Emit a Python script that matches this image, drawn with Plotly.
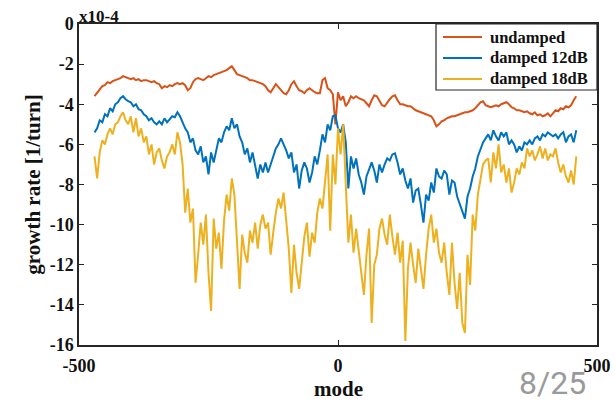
import plotly.graph_objects as go

modes = list(range(-470, 461, 5))

undamped = [
    -3.6, -3.45, -3.3, -3.1, -3.05, -2.9, -2.95, -2.85, -2.8, -2.75,
    -2.7, -2.6, -2.65, -2.7, -2.75, -2.7, -2.8, -2.75, -2.85, -2.8,
    -2.8, -2.85, -2.9, -2.85, -2.95, -3.0, -3.2, -3.1, -3.15, -3.05,
    -3.1, -3.0, -2.95, -3.0, -2.95, -3.05, -3.3, -3.2, -2.9, -2.75,
    -2.7, -2.75, -2.8, -2.7, -2.6, -2.65, -2.55, -2.5, -2.45, -2.4,
    -2.35, -2.3, -2.2, -2.1, -2.3, -2.5, -2.55, -2.6, -2.65, -2.7,
    -2.8, -2.8, -2.85, -2.9, -2.95, -3.0, -3.1, -3.3, -3.4, -3.2,
    -3.0, -3.15, -3.3, -3.45, -3.5, -3.3, -3.0, -2.85, -3.1, -3.3,
    -3.35, -3.45, -3.3, -3.2, -3.3, -3.4, -3.45, -3.45, -2.8, -2.7,
    -3.2, -3.3, -3.5, -5.0, -3.4, -3.8, -3.6, -4.1, -3.9, -3.6,
    -3.7, -3.6, -3.7, -3.75, -3.8, -3.95, -4.1, -3.8, -3.55, -3.6,
    -3.85, -4.05, -4.1, -3.9, -3.75, -3.6, -3.55, -3.8, -4.0, -4.0,
    -4.05, -4.1, -4.1, -4.2, -4.3, -4.35, -4.4, -4.45, -4.5, -4.55,
    -4.6, -4.8, -5.1, -5.0, -4.85, -4.8, -4.7, -4.65, -4.6, -4.6,
    -4.55, -4.5, -4.45, -4.4, -4.4, -4.35, -4.3, -4.2, -4.05, -3.9,
    -3.85, -4.05, -4.1, -4.15, -4.1, -4.05, -4.1, -4.0, -3.95, -3.9,
    -4.0, -4.15, -4.2, -4.3, -4.3, -4.35, -4.4, -4.35, -4.45, -4.5,
    -4.4, -4.55, -4.5, -4.6, -4.55, -4.45, -4.6, -4.45, -4.3, -4.35,
    -4.2, -4.25, -4.1, -4.15, -4.05, -3.8, -3.6,
]

damped12 = [
    -5.4, -5.2, -4.8, -4.9, -4.5, -4.6, -4.2, -4.35, -4.0, -3.9,
    -3.7, -3.6, -3.75, -3.85, -3.9, -4.1, -4.0, -4.25, -4.3, -4.5,
    -4.6, -4.8, -4.7, -4.9, -5.0, -4.85, -5.0, -4.7, -4.9, -4.75,
    -4.6, -4.65, -4.4, -4.6, -4.9, -5.2, -5.4, -5.9, -5.7, -6.3,
    -6.5, -6.1, -6.9, -6.6, -7.5, -6.4, -6.9, -6.2, -5.7, -5.9,
    -5.4, -5.1, -5.3, -4.7, -5.2, -5.0, -5.6, -5.9, -6.5, -6.2,
    -6.9, -6.4, -7.1, -7.7, -7.0, -7.4, -6.9, -7.4, -7.0, -6.6,
    -6.2, -6.0, -5.7, -6.0, -6.3, -6.7, -6.4, -7.4, -7.0, -8.2,
    -7.3, -6.9, -7.2, -7.9, -7.4, -6.6, -7.0, -6.3, -5.5, -5.9,
    -5.0, -5.3, -4.6, -4.55, -5.2, -5.4, -5.0, -5.9, -8.2, -6.6,
    -7.2, -6.7, -7.5, -7.9, -8.5, -7.6, -7.2, -6.9, -7.3, -7.9,
    -7.0, -7.4, -7.0, -6.7, -6.8, -6.5, -6.45, -6.9, -7.5, -7.2,
    -7.8, -8.2, -7.7, -8.9, -8.3, -8.2, -9.0, -9.9, -8.5, -8.8,
    -7.9, -8.4, -7.2, -7.6, -7.7, -7.3, -7.5, -8.5, -7.8, -7.9,
    -8.6, -9.0, -9.4, -9.7, -8.6, -8.2, -7.6, -7.2, -6.6, -6.2,
    -5.9, -5.7, -5.5, -5.8, -5.3, -5.6, -5.8, -5.4, -5.6, -5.4,
    -6.0, -5.8, -6.0, -6.4, -6.1, -6.3, -5.9, -6.0, -5.8, -6.0,
    -5.7, -5.6, -5.8, -5.5, -5.6, -5.4, -5.5, -5.6, -5.5, -5.7,
    -5.5, -5.4, -5.9, -5.6, -5.5, -5.9, -5.3,
]

damped18 = [
    -6.6, -7.7, -6.4, -5.8, -6.0, -5.5, -5.2, -5.5, -5.0, -4.9,
    -4.6, -4.4, -4.8, -5.0, -4.6, -5.4, -4.7, -5.6, -5.2, -5.9,
    -5.6, -6.5, -6.0, -7.0, -6.4, -6.2, -6.8, -7.2, -6.6, -6.4,
    -6.0, -6.5, -5.4, -5.9, -7.0, -9.4, -8.2, -9.9, -9.2, -12.9,
    -11.5, -9.9, -11.0, -9.5, -12.4, -14.3, -9.7, -11.2, -10.4, -12.2,
    -9.8, -8.5, -9.3, -7.7, -8.5, -10.7, -13.2, -10.5, -11.4, -11.9,
    -10.3, -10.9, -9.9, -11.2, -10.0, -9.5, -10.2, -9.9, -11.5, -10.4,
    -9.4, -8.7, -9.2, -8.4, -9.9, -11.2, -13.4, -11.0, -12.4, -13.2,
    -11.9, -10.6, -9.9, -11.6, -10.4, -10.9, -9.4, -8.7, -9.2, -7.9,
    -6.5, -10.3, -6.5, -8.0, -5.2, -6.5, -5.0, -8.0, -10.9, -9.5,
    -11.4, -10.2, -11.4, -12.5, -13.5, -11.5, -10.2, -14.9, -12.0, -11.5,
    -10.2, -9.7, -10.5, -11.0, -9.5, -10.6, -11.5, -10.4, -11.9, -10.8,
    -15.8, -12.2, -10.9, -12.0, -12.9, -11.2, -12.2, -13.2, -11.5, -10.2,
    -9.5, -10.9, -10.2, -11.4, -11.9, -10.9, -12.4, -13.5, -10.9, -12.9,
    -14.2, -12.4, -14.9, -15.4, -11.5, -13.0, -9.5, -10.3, -8.5, -7.7,
    -7.0, -6.8, -6.7, -7.9, -6.4, -7.2, -6.0, -7.4, -7.0, -7.9,
    -7.2, -8.4, -7.9, -7.2, -7.5, -6.9, -7.2, -6.2, -6.6, -6.3,
    -6.8, -6.5, -6.1, -6.7, -6.2, -6.8, -6.5, -6.6, -6.2, -6.9,
    -7.4, -7.0, -7.6, -7.9, -7.3, -8.0, -6.6,
]

series_names = ["undamped", "damped 12dB", "damped 18dB"]
series_colors = ["#D95319", "#0072BD", "#EDB120"]

x_ticks = [-500, 0, 500]
x_tick_text = ["-500", "0", "500"]
y_ticks = [-16, -14, -12, -10, -8, -6, -4, -2, 0]
y_tick_text = ["-16", "-14", "-12", "-10", "-8", "-6", "-4", "-2", "0"]

SERIF = "Liberation Serif, Times New Roman, serif"
INK = "#262626"
TXT = "#111111"

fig = go.Figure()
for name, color, vals in zip(series_names, series_colors, [undamped, damped12, damped18]):
    fig.add_trace(go.Scatter(x=modes, y=vals, mode="lines", name=name,
                             line=dict(color=color, width=2), showlegend=False))

axis_common = dict(
    showline=True, linecolor=INK, linewidth=1.5, mirror="ticks",
    ticks="inside", ticklen=5, tickwidth=1.2, tickcolor=INK,
    showgrid=False, zeroline=False, automargin=False,
    tickfont=dict(family=SERIF, size=18, color=TXT, weight="bold"),
)

fig.update_layout(
    width=615, height=404,
    margin=dict(l=79, r=18, t=24, b=59, autoexpand=False),
    paper_bgcolor="white", plot_bgcolor="white",
    xaxis=dict(range=[-500, 500], tickvals=x_ticks, ticktext=x_tick_text,
               ticklabelstandoff=4, **axis_common),
    yaxis=dict(range=[-16, 0], tickvals=y_ticks, ticktext=y_tick_text,
               title=dict(text="growth rate [1/turn]", standoff=3,
                          font=dict(family=SERIF, size=21, color=TXT, weight="bold")),
               **axis_common),
)

# legend box (MATLAB style, top-right corner inside the axes)
fig.add_shape(type="rect", xref="paper", yref="paper", x0=0.6892, x1=1.0, y0=0.7944, y1=1.0,
              line=dict(color=INK, width=1.2), fillcolor="white", layer="above")
legend_rows = [0.9595, 0.8941, 0.8287]
for name, color, ry in zip(series_names, series_colors, legend_rows):
    fig.add_shape(type="line", xref="paper", yref="paper", x0=0.7027, x1=0.778, y0=ry, y1=ry,
                  line=dict(color=color, width=2), layer="above")
    fig.add_annotation(text=name, xref="paper", yref="paper", x=0.7896, y=ry,
                       xanchor="left", yanchor="middle", showarrow=False,
                       font=dict(family=SERIF, size=16.5, color=TXT, weight="bold"))

fig.add_annotation(text="x10-4", xref="paper", yref="paper", x=-0.003, y=1.022,
                   xanchor="left", yanchor="middle", showarrow=False,
                   font=dict(family=SERIF, size=17, color=TXT, weight="bold"))
fig.add_annotation(text="mode", xref="paper", yref="paper", x=0.5, y=-0.137,
                   xanchor="center", yanchor="middle", showarrow=False,
                   font=dict(family=SERIF, size=21, color=TXT, weight="bold"))
fig.add_annotation(text="8/25", xref="paper", yref="paper", x=0.915, y=-0.1825,
                   xanchor="center", yanchor="bottom", showarrow=False,
                   font=dict(family="Roboto, sans-serif", size=32, color="#9a9a9a"))

fig.write_html("out.html")
